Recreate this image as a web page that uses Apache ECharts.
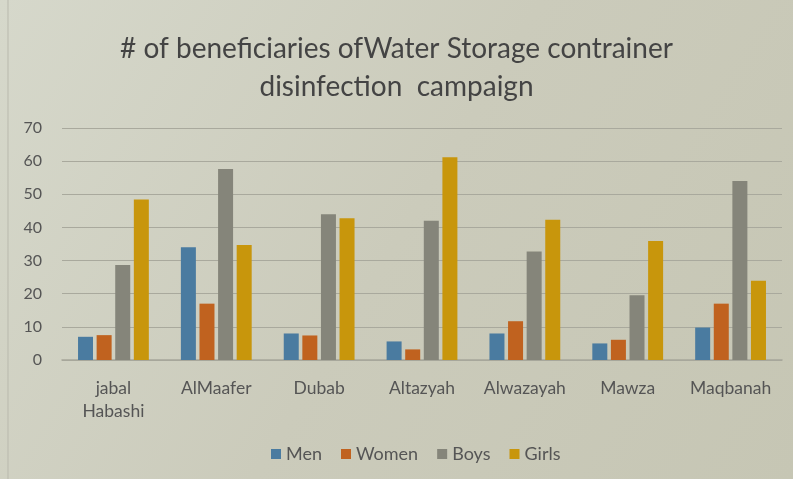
<!DOCTYPE html>
<html><head><meta charset="utf-8">
<script src="https://cdn.jsdelivr.net/npm/echarts@6/dist/echarts.min.js"></script>
<style>html,body{margin:0;padding:0;}#c{width:793px;height:479px;}</style>
</head><body><div id="c"></div>
<script>
const categories = ['jabal\nHabashi','AlMaafer','Dubab','Altazyah','Alwazayah','Mawza','Maqbanah'];
const men   = [7, 34, 8, 5.6, 8, 5, 9.8];
const women = [7.5, 17, 7.4, 3.2, 11.7, 6.1, 17];
const boys  = [28.7, 57.6, 44, 42, 32.7, 19.5, 54];
const girls = [48.4, 34.7, 42.8, 61.2, 42.3, 35.9, 23.9];
const yTicks = {min: 0, max: 70, interval: 10};

const font = 'Lato, "Open Sans", sans-serif';
const chart = echarts.init(document.getElementById('c'));
function s(name, data, color) {
  return {name, type: 'bar', data, barWidth: 15, barGap: '24%',
    itemStyle: {color}};
}
chart.setOption({
  backgroundColor: {type: 'linear', x: 0, y: 0, x2: 1, y2: 1, colorStops: [
    {offset: 0, color: '#d6d8cb'}, {offset: 0.5, color: '#cbcbbb'}, {offset: 1, color: '#c6c6b4'}]},
  title: {text: '# of beneficiaries ofWater Storage contrainer\ndisinfection  campaign',
    left: 'center', top: 25,
    textStyle: {fontFamily: font, fontSize: 28, fontWeight: 'normal', color: '#444444', lineHeight: 38}},
  legend: {bottom: 11, left: 266, itemWidth: 10, itemHeight: 10, itemGap: 19,
    icon: 'rect',
    textStyle: {fontFamily: font, fontSize: 18, color: '#555555'},
    data: ['Men','Women','Boys','Girls']},
  grid: {left: 62, right: 11, top: 128, bottom: 119, containLabel: false},
  xAxis: {type: 'category', data: categories,
    axisLine: {lineStyle: {color: '#a6a69a', width: 1.5}},
    axisTick: {show: false},
    axisLabel: {interval: 0, fontFamily: font, fontSize: 17.5, color: '#555555', margin: 17, lineHeight: 23}},
  yAxis: {type: 'value', min: yTicks.min, max: yTicks.max, interval: yTicks.interval,
    axisLine: {show: false}, axisTick: {show: false},
    splitLine: {lineStyle: {color: '#a9a99d', width: 1}},
    axisLabel: {fontFamily: font, fontSize: 16, color: '#555555', margin: 20}},
  series: [s('Men', men, '#4a7ba0'), s('Women', women, '#c0621f'),
           s('Boys', boys, '#85857a'), s('Girls', girls, '#c8960c')],
  graphic: [{type: 'line', shape: {x1: 8, y1: 0, x2: 8, y2: 479},
    style: {stroke: '#b9b9ad', lineWidth: 1}}]
});
</script></body></html>
